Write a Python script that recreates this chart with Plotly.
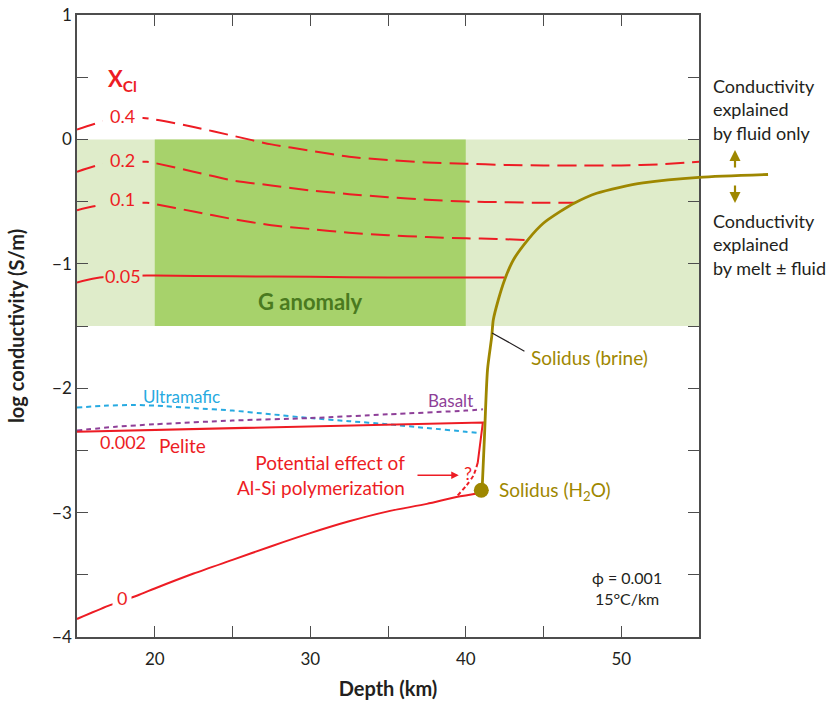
import plotly.graph_objects as go

# ---------------- data ----------------
x_04 = [15, 16, 17, 19, 20, 22.5, 25, 27.5, 30, 32.5, 35, 37.5, 40, 42.5, 45, 47.5, 50, 52.5, 55]
y_04 = [0.08, 0.12, 0.155, 0.175, 0.16, 0.10, 0.03, -0.04, -0.09, -0.14, -0.165, -0.185, -0.195, -0.205, -0.21, -0.21, -0.21, -0.20, -0.18]

x_02 = [15, 16, 17, 19.5, 20, 22.5, 25, 27.5, 30, 32.5, 35, 37.5, 40, 42.5, 45, 47]
y_02 = [-0.26, -0.22, -0.19, -0.18, -0.19, -0.26, -0.33, -0.37, -0.41, -0.44, -0.465, -0.485, -0.50, -0.505, -0.51, -0.51]

x_01 = [15, 16, 17, 19.5, 20, 22.5, 25, 27.5, 30, 32.5, 35, 37.5, 40, 42, 44]
y_01 = [-0.57, -0.54, -0.52, -0.51, -0.52, -0.58, -0.64, -0.69, -0.72, -0.75, -0.77, -0.785, -0.795, -0.80, -0.81]

x_005 = [15, 16, 17, 19.5, 20, 25, 30, 35, 40, 42.5]
y_005 = [-1.15, -1.12, -1.105, -1.095, -1.095, -1.10, -1.105, -1.11, -1.11, -1.11]

x_pelite = [15, 20, 25, 30, 35, 40, 41.1, 40.77]
y_pelite = [-2.35, -2.335, -2.32, -2.305, -2.29, -2.28, -2.275, -2.60]

x_poly = [40.77, 40.5, 40.06, 39.42]
y_poly = [-2.60, -2.70, -2.78, -2.87]

x_0 = [15, 17, 19, 20, 22.5, 25, 27.5, 30, 32.5, 35, 37.5, 39.4, 41.0]
y_0 = [-3.855, -3.75, -3.66, -3.61, -3.49, -3.38, -3.27, -3.165, -3.07, -2.99, -2.93, -2.875, -2.84]

x_ultra = [15, 17, 18.5, 20, 22.5, 25, 27.5, 30, 32.5, 35, 37.5, 40, 40.8]
y_ultra = [-2.155, -2.14, -2.135, -2.14, -2.16, -2.18, -2.21, -2.24, -2.265, -2.29, -2.32, -2.35, -2.36]

x_basalt = [15, 17.5, 20, 25, 30, 35, 40, 41.1]
y_basalt = [-2.34, -2.31, -2.29, -2.26, -2.24, -2.21, -2.18, -2.17]

x_brine = [41.05, 41.2, 41.4, 41.67, 41.77, 42.09, 42.52, 43.06, 44.02, 44.99, 46.06, 47.03, 48.42, 49.92, 51.4, 55.0, 59.44]
y_brine = [-2.82, -2.4, -1.85, -1.586, -1.452, -1.291, -1.122, -0.969, -0.803, -0.674, -0.581, -0.509, -0.433, -0.385, -0.35, -0.305, -0.282]

x_h2o_solidus = [41.0]
y_h2o_solidus = [-2.82]

# regions
fluid_region_x = [15, 55]
fluid_region_y = [-1.5, 0]
g_anomaly_x = [20, 40]
g_anomaly_y = [-1.5, 0]

x_ticks = [20, 30, 40, 50]
y_ticks = [1, 0, -1, -2, -3, -4]

# ---------------- styles ----------------
RED = "#ed1c24"
OLIVE = "#9e8700"
CYAN = "#27aae1"
PURPLE = "#8e3f98"
LIGHT_GREEN = "#dfecca"
DARK_GREEN = "#a7d26b"
TEXT_GREEN = "#4a7a1f"
DARK = "#231f20"
AXIS = "#4d4d4d"
FONT = "Lato"

W, H = 828, 701
L, R, T, B = 77, 53, 15, 64
PLOT_W = 622  # main plot width in px
paper_w = W - L - R
x_dom_end = PLOT_W / paper_w
x2_end = 15 + (55 - 15) * paper_w / PLOT_W

fig = go.Figure()

long_dash = "19px,8px"
short_dash = "5px,4px"

def line(x, y, color, dash="solid", width=2, xaxis="x", yaxis="y", shape="spline"):
    fig.add_trace(go.Scatter(x=x, y=y, mode="lines", xaxis=xaxis, yaxis=yaxis,
                             line=dict(color=color, width=width, dash=dash, shape=shape, smoothing=0.7),
                             hoverinfo="skip", showlegend=False))

line(x_04, y_04, RED, long_dash)
line(x_02, y_02, RED, long_dash)
line(x_01, y_01, RED, long_dash)
line(x_005, y_005, RED)
line(x_ultra, y_ultra, CYAN, short_dash)
line(x_basalt, y_basalt, PURPLE, short_dash)
line(x_pelite, y_pelite, RED, shape="linear")
line(x_poly, y_poly, RED, "4px,3px")
line(x_0, y_0, RED)
line(x_brine, y_brine, OLIVE, width=2.8, xaxis="x2", yaxis="y2")
fig.add_trace(go.Scatter(x=x_h2o_solidus, y=y_h2o_solidus, mode="markers", xaxis="x2", yaxis="y2",
                         marker=dict(color=OLIVE, size=15), cliponaxis=False,
                         hoverinfo="skip", showlegend=False))

# regions
fig.add_shape(type="rect", xref="x", yref="y", x0=fluid_region_x[0], x1=fluid_region_x[1],
              y0=fluid_region_y[0], y1=fluid_region_y[1], fillcolor=LIGHT_GREEN, line_width=0, layer="below")
fig.add_shape(type="rect", xref="x", yref="y", x0=g_anomaly_x[0], x1=g_anomaly_x[1],
              y0=g_anomaly_y[0], y1=g_anomaly_y[1], fillcolor=DARK_GREEN, line_width=0, layer="below")

anns = []

def label(x, y, text, color=RED, size=18, bg=None, xanchor="center", align="center", pad=1, **kw):
    d = dict(x=x, y=y, xref="x", yref="y", text=text, showarrow=False,
             font=dict(family=FONT, size=size, color=color), xanchor=xanchor, yanchor="middle",
             align=align, borderpad=pad)
    if bg:
        d["bgcolor"] = bg
    d.update(kw)
    anns.append(d)

label(17.9, 0.478, "<b>X<sub>Cl</sub></b>", size=22)
label(17.9, 0.19, "0.4", bg="white", pad=7)
label(17.9, -0.165, "0.2", bg=LIGHT_GREEN, pad=7)
label(17.9, -0.48, "0.1", bg=LIGHT_GREEN, pad=7)
label(17.95, -1.10, "0.05", bg=LIGHT_GREEN, pad=1)
label(17.95, -2.43, "0.002")
label(21.8, -2.46, "Pelite", size=19)
label(17.9, -3.69, "0", bg="white", pad=4)
label(21.75, -2.07, "Ultramafic", color=CYAN, size=17)
label(39.0, -2.095, "Basalt", color=PURPLE, size=17)
label(36.25, -2.70, "Potential effect of<br>Al-Si polymerization", xanchor="right", align="right", size=19)
label(40.15, -2.68, "?", size=18)
label(42.0, -2.83, "Solidus (H<sub>2</sub>O)", color=OLIVE, xanchor="left", size=19)
label(44.05, -1.75, "Solidus (brine)", color=OLIVE, xanchor="left", size=19)
label(30.0, -1.307, "<b>G anomaly</b>", color=TEXT_GREEN, size=22)
label(50.4, -3.606, "ϕ = 0.001<br>15°C/km", color=DARK, size=16)

# red arrow to "?"
anns.append(dict(x=39.55, y=-2.70, ax=36.8, ay=-2.70, xref="x", yref="y", axref="x", ayref="y",
                 text="", showarrow=True, arrowhead=2, arrowsize=1, arrowwidth=1.5, arrowcolor=RED))
# leader line for brine solidus
anns.append(dict(x=41.69, y=-1.556, ax=43.87, ay=-1.709, xref="x", yref="y", axref="x", ayref="y",
                 text="", showarrow=True, arrowhead=0, arrowwidth=1.2, arrowcolor=DARK))

# right side notes (paper coords)
def px2paper_x(px):
    return (px - L) / paper_w

def py2paper_y(py):
    return (H - B - py) / (H - B - T)

anns.append(dict(x=px2paper_x(711), y=py2paper_y(109), xref="paper", yref="paper",
                 text="Conductivity<br>explained<br>by fluid only", showarrow=False, xanchor="left",
                 yanchor="middle", align="left", font=dict(family=FONT, size=18, color=DARK)))
anns.append(dict(x=px2paper_x(711), y=py2paper_y(245), xref="paper", yref="paper",
                 text="Conductivity<br>explained<br>by melt ± fluid", showarrow=False, xanchor="left",
                 yanchor="middle", align="left", font=dict(family=FONT, size=18, color=DARK)))
anns.append(dict(x=px2paper_x(735), y=py2paper_y(150), xref="paper", yref="paper", ax=0, ay=19,
                 text="", showarrow=True, arrowhead=2, arrowsize=1, arrowwidth=2.2, arrowcolor=OLIVE))
anns.append(dict(x=px2paper_x(735), y=py2paper_y(203), xref="paper", yref="paper", ax=0, ay=-19,
                 text="", showarrow=True, arrowhead=2, arrowsize=1, arrowwidth=2.2, arrowcolor=OLIVE))

fig.update_layout(
    width=W, height=H,
    margin=dict(l=L, r=R, t=T, b=B, autoexpand=False),
    paper_bgcolor="white", plot_bgcolor="rgba(0,0,0,0)",
    font=dict(family=FONT, color=DARK),
    annotations=anns,
    showlegend=False,
    xaxis=dict(domain=[0, x_dom_end], range=[15, 55], showgrid=False, zeroline=False, automargin=False,
               showline=True, linecolor=AXIS, linewidth=1.5, mirror="ticks",
               ticks="inside", ticklen=11, tickcolor=AXIS, tickwidth=1.3,
               tickvals=x_ticks, tickfont=dict(size=17, color=DARK), ticklabelstandoff=6,
               minor=dict(dtick=5, tick0=15, ticks="inside", ticklen=11, tickcolor=AXIS, tickwidth=1.3),
               title=dict(text="<b>Depth (km)</b>", font=dict(size=20, color=DARK), standoff=14)),
    yaxis=dict(domain=[0, 1], range=[-4, 1], showgrid=False, zeroline=False, automargin=False,
               showline=True, linecolor=AXIS, linewidth=1.5, mirror="ticks",
               ticks="inside", ticklen=11, tickcolor=AXIS, tickwidth=1.3,
               tickvals=y_ticks, tickfont=dict(size=17, color=DARK),
               minor=dict(dtick=0.5, tick0=0, ticks="inside", ticklen=11, tickcolor=AXIS, tickwidth=1.3),
               title=dict(text="<b>log conductivity (S/m)</b>", font=dict(size=20, color=DARK), standoff=22)),
    xaxis2=dict(domain=[0, 1], range=[15, x2_end], anchor="y2", visible=False, fixedrange=True),
    yaxis2=dict(domain=[0, 1], range=[-4, 1], anchor="x2", visible=False, fixedrange=True),
)

fig.write_html("out.html")
